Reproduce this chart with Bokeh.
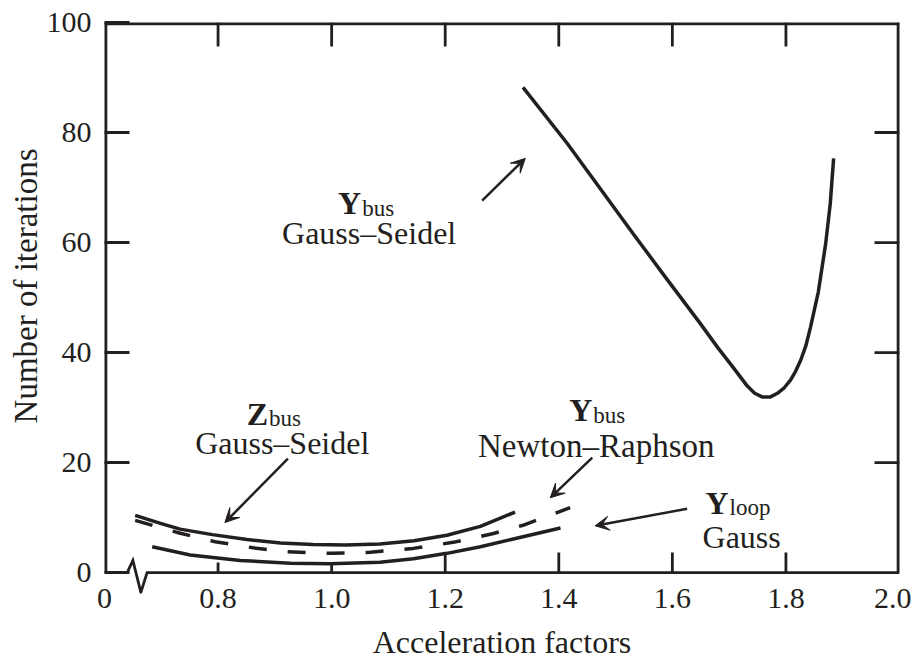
from bokeh.plotting import figure
from bokeh.models import Range1d, FixedTicker, Label, Arrow, VeeHead, Title
from bokeh.embed import file_html
from bokeh.resources import INLINE

# ---------------- data ----------------
ybus_gs_x = [1.337, 1.415, 1.531, 1.590, 1.649, 1.680, 1.707, 1.732, 1.745, 1.759, 1.772, 1.785, 1.797,
             1.808, 1.817, 1.826, 1.835, 1.843, 1.857, 1.870, 1.878, 1.884]
ybus_gs_y = [88.2, 78.0, 61.6, 53.4, 45.3, 40.9, 37.3, 33.9, 32.6, 31.9, 31.9, 32.6, 33.6,
             35.0, 36.6, 38.6, 41.2, 44.5, 51.0, 59.8, 67.0, 75.3]

zbus_gs_x = [0.654, 0.700, 0.733, 0.790, 0.851, 0.910, 0.967, 1.025, 1.085, 1.145, 1.203, 1.262, 1.323]
zbus_gs_y = [10.4, 8.9, 7.9, 6.9, 6.0, 5.4, 5.1, 5.0, 5.2, 5.8, 6.8, 8.4, 11.0]

ybus_nr_x = [0.654, 0.728, 0.795, 0.862, 0.920, 1.000, 1.068, 1.144, 1.214, 1.285, 1.337, 1.420]
ybus_nr_y = [9.5, 7.3, 5.6, 4.5, 3.8, 3.5, 3.7, 4.4, 5.5, 7.1, 8.6, 11.8]

yloop_x = [0.684, 0.751, 0.839, 0.927, 0.997, 1.085, 1.144, 1.203, 1.262, 1.320, 1.403]
yloop_y = [4.7, 3.2, 2.2, 1.7, 1.6, 1.9, 2.5, 3.5, 4.7, 6.1, 8.1]

x_tick_values = [0.6, 0.8, 1.0, 1.2, 1.4, 1.6, 1.8, 2.0]
x_tick_labels = ["0", "0.8", "1.0", "1.2", "1.4", "1.6", "1.8", "2.0"]
y_tick_values = [0, 20, 40, 60, 80, 100]
y_tick_labels = ["0", "20", "40", "60", "80", "100"]

# axis-break zigzag on the x axis
break_x = [0.640, 0.650, 0.664, 0.675]
break_y = [0.0, 2.2, -3.6, 0.0]

# ---------------- styling ----------------
C = "#231f20"
FONT = "Liberation Serif"
FW, FH = 795, 571
X0, X1 = x_tick_values[0], x_tick_values[-1]
Y0, Y1 = y_tick_values[0], y_tick_values[-1]
YLO = -3.8  # extra room under the axis so the break mark can be drawn
PX_X = FW / (X1 - X0)
PX_Y = FH / (Y1 - YLO)

p = figure(frame_width=FW, frame_height=FH,
           x_range=Range1d(X0, X1), y_range=Range1d(YLO, Y1),
           output_backend="svg", toolbar_location=None,
           min_border_left=104, min_border_top=22, min_border_right=12, min_border_bottom=60)
p.grid.visible = False
p.background_fill_color = "white"
p.border_fill_color = "white"
p.outline_line_color = None

# bottom axis: labels + title only
xa = p.xaxis[0]
xa.ticker = FixedTicker(ticks=x_tick_values)
xa.major_label_overrides = {v: s for v, s in zip(x_tick_values, x_tick_labels)}
xa.axis_line_color = None
xa.major_tick_line_color = None
xa.minor_tick_line_color = None
xa.major_tick_in = 0
xa.major_tick_out = 0
xa.minor_tick_in = 0
xa.minor_tick_out = 0
xa.axis_label = "Acceleration factors"
xa.major_label_standoff = -5
xa.axis_label_standoff = 13
xa.axis_label_text_font = FONT
xa.axis_label_text_font_size = "32px"
xa.axis_label_text_font_style = "normal"
xa.axis_label_text_color = C

# left axis: ticks + labels
ya = p.yaxis[0]
ya.ticker = FixedTicker(ticks=y_tick_values)
ya.major_label_overrides = {v: s for v, s in zip(y_tick_values, y_tick_labels)}
ya.axis_line_color = None
ya.major_tick_in = 25
ya.major_tick_out = 0
ya.minor_tick_in = 0
ya.minor_tick_out = 0
ya.major_tick_line_color = C
ya.major_tick_line_width = 2.8
ya.major_label_standoff = 13

for ax in (xa, ya):
    ax.major_label_text_font = FONT
    ax.major_label_text_font_size = "30px"
    ax.major_label_text_color = C

# y title, placed along the left side
p.add_layout(Title(text="Number of iterations", align="right", offset=126, standoff=0,
                   text_font=FONT, text_font_size="33px", text_font_style="normal",
                   text_color=C), "left")

LW = 2.8
# frame box (edges on the frame border are half clipped, so drawn twice as wide)
p.line([X0, X0], [Y0, Y1], line_color=C, line_width=2 * LW)
p.line([X0, X1], [Y1, Y1], line_color=C, line_width=2 * LW)
p.line([X1, X1], [Y0, Y1], line_color=C, line_width=2 * LW)
# bottom axis line with break
bx = [X0] + break_x + [X1]
by = [Y0] + [Y0 + v for v in break_y] + [Y0]
p.line(bx, by, line_color=C, line_width=LW, line_join="miter")

# bottom ticks (short where the curves run close, long elsewhere)
short = x_tick_values[1:3]
long_ = x_tick_values[3:7]
p.segment(x0=short, y0=[Y0] * len(short), x1=short, y1=[Y0 + 10 / PX_Y] * len(short),
          line_color=C, line_width=LW)
p.segment(x0=long_, y0=[Y0] * len(long_), x1=long_, y1=[Y0 + 20 / PX_Y] * len(long_),
          line_color=C, line_width=LW)
# top ticks
tt = x_tick_values[1:7]
p.segment(x0=tt, y0=[Y1] * len(tt), x1=tt, y1=[Y1 - 24 / PX_Y] * len(tt),
          line_color=C, line_width=LW)
# right ticks
rt = y_tick_values[1:5]
p.segment(x0=[X1] * len(rt), y0=rt, x1=[X1 - 25 / PX_X] * len(rt), y1=rt,
          line_color=C, line_width=LW)

# curves
p.line(ybus_gs_x, ybus_gs_y, line_color=C, line_width=3.5, line_join="round")
p.line(zbus_gs_x, zbus_gs_y, line_color=C, line_width=3.5, line_join="round")
p.line(ybus_nr_x, ybus_nr_y, line_color=C, line_width=3.5, line_dash="18 21", line_join="round")
p.line(yloop_x, yloop_y, line_color=C, line_width=3.5, line_join="round")

# arrows
def arrow(x0, y0, x1, y1):
    p.add_layout(Arrow(end=VeeHead(size=14, fill_color=C, line_color=C, line_width=1),
                       x_start=x0, y_start=y0, x_end=x1, y_end=y1,
                       line_color=C, line_width=2.5))

arrow(1.265, 67.6, 1.341, 75.3)
arrow(0.923, 20.7, 0.812, 9.1)
arrow(1.459, 20.9, 1.385, 13.6)
arrow(1.626, 11.6, 1.464, 8.5)

# labels
def lab(x, y, text, size="32px", align="center", style="normal", xo=0, yo=0):
    p.add_layout(Label(x=x, y=y, text=text, text_font=FONT, text_font_size=size,
                       text_align=align, text_baseline="alphabetic", text_color=C,
                       text_font_style=style, x_offset=xo, y_offset=yo))

def sub_label(x, y, main, sub):
    lab(x, y, main, size="32px", align="right", style="bold")
    lab(x, y, sub, size="23px", align="left", xo=1, yo=-5)

sub_label(1.052, 67.1, "Y", "bus")
lab(1.066, 61.8, "Gauss\u2013Seidel")

sub_label(0.888, 28.9, "Z", "bus")
lab(0.913, 23.6, "Gauss\u2013Seidel")

sub_label(1.459, 29.5, "Y", "bus")
lab(1.466, 23.1, "Newton\u2013Raphson", size="33px")

sub_label(1.699, 12.7, "Y", "loop")
lab(1.722, 6.4, "Gauss")

open("out.html", "w").write(file_html(p, INLINE))
